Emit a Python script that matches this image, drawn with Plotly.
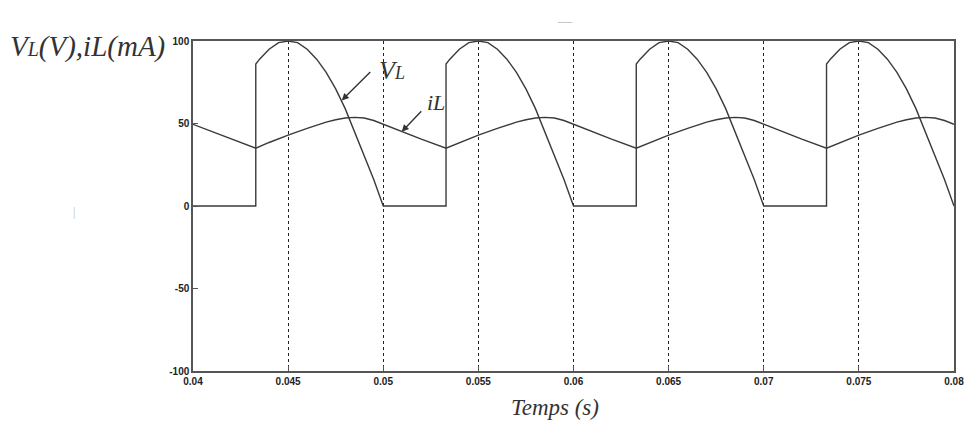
import plotly.graph_objects as go

# ---- data ----
t_vl = [0.04, 0.0433,
        0.0433, 0.0435, 0.044, 0.0445, 0.045, 0.0455, 0.046, 0.0465, 0.047, 0.0475, 0.048, 0.0485, 0.049, 0.0495, 0.05, 0.0533,
        0.0533, 0.0535, 0.054, 0.0545, 0.055, 0.0555, 0.056, 0.0565, 0.057, 0.0575, 0.058, 0.0585, 0.059, 0.0595, 0.06, 0.0633,
        0.0633, 0.0635, 0.064, 0.0645, 0.065, 0.0655, 0.066, 0.0665, 0.067, 0.0675, 0.068, 0.0685, 0.069, 0.0695, 0.07, 0.0733,
        0.0733, 0.0735, 0.074, 0.0745, 0.075, 0.0755, 0.076, 0.0765, 0.077, 0.0775, 0.078, 0.0785, 0.079, 0.0795, 0.08]
v_l = [0, 0,
       86, 89, 95, 99, 100, 99, 95, 89, 81, 71, 59, 45, 31, 16, 0, 0,
       86, 89, 95, 99, 100, 99, 95, 89, 81, 71, 59, 45, 31, 16, 0, 0,
       86, 89, 95, 99, 100, 99, 95, 89, 81, 71, 59, 45, 31, 16, 0, 0,
       86, 89, 95, 99, 100, 99, 95, 89, 81, 71, 59, 45, 31, 16, 0]

t_il = [0.04, 0.041, 0.042, 0.0433,
        0.044, 0.045, 0.046, 0.0465, 0.047, 0.0475, 0.048, 0.0485, 0.049, 0.0495, 0.05, 0.051, 0.052, 0.0533,
        0.054, 0.055, 0.056, 0.0565, 0.057, 0.0575, 0.058, 0.0585, 0.059, 0.0595, 0.06, 0.061, 0.062, 0.0633,
        0.064, 0.065, 0.066, 0.0665, 0.067, 0.0675, 0.068, 0.0685, 0.069, 0.0695, 0.07, 0.071, 0.072, 0.0733,
        0.074, 0.075, 0.076, 0.0765, 0.077, 0.0775, 0.078, 0.0785, 0.079, 0.0795, 0.08]
i_l = [49.5, 45, 40.5, 35,
       38.5, 43, 47, 49, 50.8, 52.3, 53.3, 53.7, 53.3, 51.8, 49.5, 45, 40.5, 35,
       38.5, 43, 47, 49, 50.8, 52.3, 53.3, 53.7, 53.3, 51.8, 49.5, 45, 40.5, 35,
       38.5, 43, 47, 49, 50.8, 52.3, 53.3, 53.7, 53.3, 51.8, 49.5, 45, 40.5, 35,
       38.5, 43, 47, 49, 50.8, 52.3, 53.3, 53.7, 53.3, 51.8, 49.5]

x_ticks = [0.04, 0.045, 0.05, 0.055, 0.06, 0.065, 0.07, 0.075, 0.08]
x_tick_labels = ["0.04", "0.045", "0.05", "0.055", "0.06", "0.065", "0.07", "0.075", "0.08"]
y_ticks = [-100, -50, 0, 50, 100]
y_tick_labels = ["-100", "-50", "0", "50", "100"]

line_col = "#3a3a3a"
serif = "Liberation Serif, Times New Roman, serif"
tick_font = dict(family="Liberation Sans, Arial, sans-serif", size=10, color="#222")

fig = go.Figure()
fig.add_trace(go.Scatter(x=t_vl, y=v_l, mode="lines",
                         line=dict(color=line_col, width=1.4), showlegend=False))
fig.add_trace(go.Scatter(x=t_il, y=i_l, mode="lines",
                         line=dict(color=line_col, width=1.4), showlegend=False))

fig.update_layout(
    width=976, height=421,
    margin=dict(l=193, r=19, t=41, b=50),
    paper_bgcolor="white", plot_bgcolor="white",
    xaxis=dict(range=[0.04, 0.08], tickvals=x_ticks,
               ticktext=["<b>" + s + "</b>" for s in x_tick_labels],
               showgrid=True, gridcolor="#222", griddash="dot", gridwidth=1,
               showline=True, linecolor="#555", linewidth=1.5, mirror=True,
               ticks="inside", ticklen=5, tickcolor="#555",
               tickfont=tick_font, zeroline=False),
    yaxis=dict(range=[-100, 100], tickvals=y_ticks,
               ticktext=["<b>" + s + "</b>" for s in y_tick_labels],
               showgrid=False,
               showline=True, linecolor="#555", linewidth=1.5, mirror=True,
               ticks="inside", ticklen=5, tickcolor="#555",
               tickfont=tick_font, zeroline=False),
)

# y-axis title (top-left)
fig.add_annotation(xref="paper", yref="paper", x=-0.2428, y=0.982, xanchor="left", yanchor="middle",
                   text="<i>V<span style='font-size:20px'>L</span>(V),iL(mA)</i>",
                   showarrow=False, font=dict(family=serif, size=29, color="#333"))
# x-axis title
fig.add_annotation(xref="paper", yref="paper", x=0.476, y=-0.11, xanchor="center", yanchor="middle",
                   text="<i>Temps (s)</i>",
                   showarrow=False, font=dict(family=serif, size=23, color="#333"))

# VL label with arrow
fig.add_annotation(xref="x", yref="y", x=0.04782, y=64,
                   ax=30, ay=-30,
                   text="", showarrow=True, arrowhead=2, arrowsize=1, arrowwidth=1.4, arrowcolor="#333")
fig.add_annotation(xref="x", yref="y", x=0.04965, y=82, xanchor="left", yanchor="middle",
                   text="<i>V<span style='font-size:18px'>L</span></i>", showarrow=False,
                   font=dict(family=serif, size=26, color="#333"))
# iL label with arrow
fig.add_annotation(xref="x", yref="y", x=0.05097, y=45,
                   ax=21, ay=-22,
                   text="", showarrow=True, arrowhead=2, arrowsize=1, arrowwidth=1.4, arrowcolor="#333")
fig.add_annotation(xref="x", yref="y", x=0.05222, y=63, xanchor="left", yanchor="middle",
                   text="<i>iL</i>", showarrow=False,
                   font=dict(family=serif, size=22, color="#333"))

# faint scan artifacts
fig.add_annotation(xref="paper", yref="paper", x=(565 - 193) / 762, y=(371 - 12) / 330,
                   text="—", showarrow=False, font=dict(family=serif, size=14, color="#999"))
fig.add_annotation(xref="paper", yref="paper", x=(71 - 193) / 762, y=(371 - 212) / 330,
                   text="|", showarrow=False, font=dict(family=serif, size=12, color="#bbb"))

fig.write_html("out.html")
